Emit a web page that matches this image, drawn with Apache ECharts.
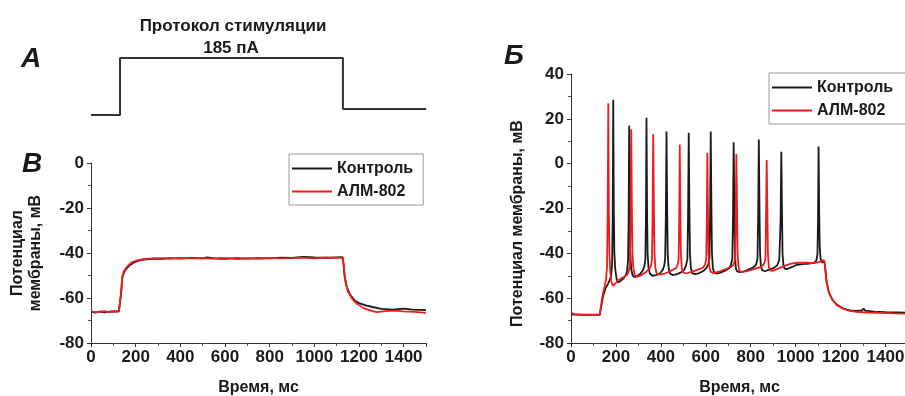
<!DOCTYPE html>
<html>
<head>
<meta charset="utf-8">
<script src="https://cdn.jsdelivr.net/npm/echarts@6/dist/echarts.min.js"></script>
<style>
  html, body { margin: 0; padding: 0; background: #fff; }
  #chart { width: 905px; height: 396px; }
</style>
</head>
<body>
<div id="chart"></div>
<script>
// stimulation protocol (А): time, ms / relative current
var stepTimes = [0, 130, 130, 1128, 1128, 1500];
var stepLevels = [0, 0, 1, 1, 0.105, 0.105];

var legendNames = ['Контроль', 'АЛМ-802'];

// panel В: subthreshold response, [ms, mV]
var controlB = [
  [0, -66.2], [20, -66.5], [40, -66.0], [60, -66.4], [80, -66.1], [100, -65.9], [125, -66.0], [130, -65.8],
  [135, -58], [140, -51], [148, -48.5], [160, -46.8], [175, -45.3], [190, -44.3], [210, -43.5], [230, -43.0],
  [250, -42.8], [280, -42.5], [320, -42.6], [350, -42.3], [400, -42.5], [450, -42.2], [500, -42.4], [520, -42.0],
  [560, -42.5], [600, -42.6], [650, -42.3], [700, -42.5], [750, -42.3], [800, -42.4], [850, -42.1], [900, -42.2],
  [950, -41.7], [1000, -42.0], [1050, -42.2], [1100, -41.9], [1125, -41.8],
  [1130, -44], [1135, -50], [1145, -55], [1160, -58.5], [1180, -61], [1200, -62.3], [1230, -63.3], [1260, -64.0],
  [1300, -64.8], [1350, -65.2], [1400, -64.7], [1440, -65.2], [1500, -65.4]
];
var almB = [
  [0, -65.9], [20, -66.3], [40, -66.2], [60, -65.8], [80, -66.3], [100, -66.0], [125, -65.7], [130, -65.5],
  [135, -57], [140, -50.5], [148, -48], [160, -46.2], [175, -44.8], [190, -43.8], [210, -43.2], [230, -42.8],
  [250, -42.6], [280, -42.4], [320, -42.3], [350, -42.5], [400, -42.2], [450, -42.4], [500, -42.3], [540, -42.5],
  [580, -42.2], [620, -42.4], [660, -42.7], [700, -42.3], [750, -42.5], [800, -42.2], [850, -42.4], [900, -42.3],
  [950, -42.1], [1000, -42.4], [1050, -42.0], [1100, -42.2], [1128, -41.9],
  [1132, -46], [1138, -52], [1150, -57], [1170, -60.5], [1190, -62.5], [1220, -64.5], [1260, -65.8], [1280, -66.3],
  [1320, -65.8], [1360, -65.6], [1400, -65.9], [1450, -66.2], [1500, -66.6]
];

// panel Б: spiking response, [ms, mV]
var controlS = [
  [0, -67.2], [40, -67.4], [90, -67.3], [128, -67.4],
  [134, -64], [142, -59.5], [152, -56], [165, -53.5], [174, -51.5], [179, -49.5], [183, -45], [185.5, -25], [188, 28.5],
  [190.5, -20], [193, -40], [197, -47], [203, -51.5], [210, -53], [222, -52.2], [235, -51], [245, -49.5], [250, -47.5],
  [254, -43], [256.5, -25], [259, 17], [261.5, -20], [264, -40], [268, -47], [274, -49.8], [283, -50.6], [297, -50],
  [310, -49], [320, -47.5], [327, -45.5], [331, -42.5], [333.5, -25], [336, 20.5], [338.5, -20], [341, -40], [345, -46.5],
  [351, -49], [362, -50], [378, -49.7], [395, -49], [408, -47.5], [415, -45.5], [419, -42.5], [422, -25], [425, 14.3],
  [428, -20], [430.5, -40], [434.5, -46.5], [440, -49], [452, -49.7], [472, -49.3], [490, -48.5], [503, -47.5], [512, -45.5],
  [518, -42.5], [521, -25], [524, 13.8], [527, -20], [529.5, -40], [533.5, -46.5], [539, -48.8], [552, -49.3], [572, -48.8],
  [590, -47.8], [603, -46.5], [611, -45], [616, -42.5], [619, -25], [622, 14.3], [625, -20], [627.5, -40], [631.5, -46.5],
  [637, -48.5], [648, -49], [668, -48.5], [690, -47.5], [703, -46.8], [712, -45], [718, -42.5], [721, -25], [724, 9.5],
  [727, -20], [729.5, -40], [733.5, -46.5], [739, -48], [752, -48.4], [772, -48], [795, -47], [812, -46.3], [824, -45],
  [830, -42.5], [833, -25], [836, 10.8], [839, -20], [841.5, -40], [845.5, -46], [851, -47.5], [864, -48], [882, -47.3],
  [903, -46.5], [918, -45.3], [927, -43], [933, -25], [936, 5.3], [939, -20], [941.5, -40], [945.5, -45.5], [951, -46.8],
  [962, -47], [980, -46.3], [1000, -45.3], [1030, -44.8], [1060, -44.6], [1082, -44.2], [1092, -43.3], [1097, -40.5],
  [1099.5, -25], [1102, 7.6], [1104.5, -20], [1107, -37], [1111, -42.5], [1117, -44], [1124, -43.8], [1128, -43.8],
  [1132, -47], [1138, -53], [1148, -57.5], [1165, -61], [1185, -63], [1210, -64.5], [1240, -65.4], [1270, -65.7],
  [1295, -65.5], [1302, -64.6], [1310, -65.6], [1350, -66], [1400, -66.2], [1450, -66.3], [1500, -66.5]
];
var almS = [
  [0, -66.4], [8, -66.5], [15, -67.2], [50, -67.4], [100, -67.5], [128, -67.4],
  [134, -63], [142, -58], [150, -54.5], [156, -51.5], [160, -46.5], [163, -25], [166, 26.9], [168.5, -20], [171, -40],
  [175, -48.5], [180, -53], [187, -54.5], [197, -53.5], [210, -52], [230, -50.8], [248, -49.8], [257, -48.2], [262, -45.5],
  [265, -25], [268, 15.3], [271, -20], [273.5, -40], [277.5, -46.5], [283, -49.5], [293, -50.5], [312, -49.8], [335, -48.2],
  [350, -46.8], [357, -45.3], [360.5, -42.5], [363, -25], [366, 13.2], [369, -20], [371.5, -40], [375.5, -46.5], [381, -48.8],
  [394, -49.5], [418, -49], [445, -47.8], [468, -46.5], [475, -45], [479, -42.5], [481.5, -25], [484, 8.5], [486.5, -20],
  [489, -40], [493, -46.5], [499, -48.5], [513, -49], [537, -48.3], [565, -47.3], [588, -46.3], [597, -45], [602, -42.5],
  [604.5, -25], [607, 4.9], [609.5, -20], [612, -40], [616, -46], [622, -48.3], [635, -48.8], [662, -48], [690, -47],
  [713, -46], [724, -45], [730.5, -42.5], [733, -25], [736, 4.3], [739, -20], [741.5, -40], [745.5, -46], [751, -48],
  [765, -48.3], [792, -47.7], [820, -46.8], [846, -46], [858, -45], [865.5, -42.5], [868, -25], [871, 1.6], [874, -20],
  [876.5, -40], [880.5, -46], [886, -47.6], [898, -47.8], [922, -46.8], [950, -45.6], [980, -44.6], [1010, -44.2],
  [1050, -44.2], [1080, -44.4], [1100, -44], [1115, -43.5], [1126, -43],
  [1130, -45], [1135, -51], [1145, -56.5], [1160, -60], [1180, -62.8], [1205, -64.5], [1235, -65.5], [1270, -66.1],
  [1320, -66.4], [1380, -66.6], [1440, -66.8], [1500, -66.9]
];

var FONT = '"Liberation Sans", Arial, sans-serif';
var INK = '#1a1a1a';
var RED = '#ee1c1c';

var chart = echarts.init(document.getElementById('chart'));

function timeAxis(gridIndex) {
  return {
    gridIndex: gridIndex,
    type: 'value',
    min: 0,
    max: 1500,
    interval: 200,
    name: 'Время, мс',
    nameLocation: 'middle',
    nameGap: 37,
    nameTextStyle: { fontFamily: FONT, fontSize: 16, fontWeight: 'bold', color: INK },
    axisLine: { onZero: false, lineStyle: { color: '#333', width: 1 } },
    axisTick: { length: 4, lineStyle: { color: '#333' } },
    minorTick: { show: true, splitNumber: 2, length: 3, lineStyle: { color: '#555' } },
    axisLabel: {
      margin: 6, showMaxLabel: false,
      formatter: function (v) { return String(v); },
      fontFamily: FONT, fontSize: 17, fontWeight: 'bold', color: INK
    },
    splitLine: { show: false }
  };
}

function voltAxis(gridIndex, min, max, gap, name, namePad) {
  return {
    gridIndex: gridIndex,
    type: 'value',
    min: min,
    max: max,
    interval: 20,
    name: name,
    nameLocation: 'middle',
    nameGap: gap,
    nameTextStyle: { fontFamily: FONT, fontSize: 16, fontWeight: 'bold', color: INK, lineHeight: 18, padding: namePad },
    axisLine: { show: true, onZero: false, lineStyle: { color: '#333', width: 1 } },
    axisTick: { show: true, length: 4, lineStyle: { color: '#333' } },
    minorTick: { show: true, splitNumber: 2, length: 3, lineStyle: { color: '#555' } },
    axisLabel: { margin: 7, fontFamily: FONT, fontSize: 17, fontWeight: 'bold', color: INK },
    splitLine: { show: false }
  };
}

function trace(name, data, color, axisIndex) {
  return {
    name: name,
    type: 'line',
    xAxisIndex: axisIndex,
    yAxisIndex: axisIndex,
    data: data,
    symbol: 'none',
    animation: false,
    lineStyle: { color: color, width: 1.8 },
    itemStyle: { color: color }
  };
}

function legendBox(left, top, padRight) {
  return {
    data: legendNames,
    orient: 'vertical',
    left: left,
    top: top,
    icon: 'rect',
    itemWidth: 40,
    itemHeight: 2,
    itemGap: 4,
    padding: [5, padRight, 4, 3],
    borderColor: '#999',
    borderWidth: 1,
    selectedMode: false,
    textStyle: { fontFamily: FONT, fontSize: 16, fontWeight: 'bold', color: INK, lineHeight: 19 }
  };
}

var stepData = stepTimes.map(function (t, i) { return [t, stepLevels[i]]; });

var option = {
  backgroundColor: '#fff',
  animation: false,
  grid: [
    { left: 91, top: 58, width: 335, height: 57, outerBoundsMode: 'none' },
    { left: 91, top: 163, width: 335, height: 180, outerBoundsMode: 'none' },
    { left: 571, top: 74, width: 337, height: 269, outerBoundsMode: 'none' }
  ],
  xAxis: [
    { gridIndex: 0, type: 'value', min: 0, max: 1500, show: false },
    timeAxis(1),
    timeAxis(2)
  ],
  yAxis: [
    { gridIndex: 0, type: 'value', min: 0, max: 1, show: false },
    voltAxis(1, -80, 0, 46, 'Потенциал\nмембраны, мВ', 0),
    voltAxis(2, -80, 40, 44, 'Потенциал мембраны, мВ', [0, 30, 0, 0])
  ],
  legend: [legendBox(289, 154, 10), legendBox(769, 73, 30)],
  series: [
    {
      name: 'Протокол',
      type: 'line',
      xAxisIndex: 0,
      yAxisIndex: 0,
      data: stepData,
      symbol: 'none',
      clip: false,
      lineStyle: { color: '#333', width: 2 }
    },
    trace(legendNames[0], controlB, INK, 1),
    trace(legendNames[1], almB, RED, 1),
    trace(legendNames[0], controlS, INK, 2),
    trace(legendNames[1], almS, RED, 2)
  ],
  graphic: [
    { type: 'text', x: 233, y: 26, style: { text: 'Протокол стимуляции', font: 'bold 17px ' + FONT, fill: INK, align: 'center', textAlign: 'center', verticalAlign: 'middle', textVerticalAlign: 'middle' } },
    { type: 'text', x: 231, y: 48, style: { text: '185 пА', font: 'bold 17px ' + FONT, fill: INK, align: 'center', textAlign: 'center', verticalAlign: 'middle', textVerticalAlign: 'middle' } },
    { type: 'text', x: 31, y: 59, style: { text: 'А', font: 'italic bold 28px ' + FONT, fill: INK, align: 'center', textAlign: 'center', verticalAlign: 'middle', textVerticalAlign: 'middle' } },
    { type: 'text', x: 32, y: 164, style: { text: 'В', font: 'italic bold 28px ' + FONT, fill: INK, align: 'center', textAlign: 'center', verticalAlign: 'middle', textVerticalAlign: 'middle' } },
    { type: 'text', x: 514, y: 56, style: { text: 'Б', font: 'italic bold 28px ' + FONT, fill: INK, align: 'center', textAlign: 'center', verticalAlign: 'middle', textVerticalAlign: 'middle' } }
  ]
};

chart.setOption(option);
</script>
</body>
</html>
